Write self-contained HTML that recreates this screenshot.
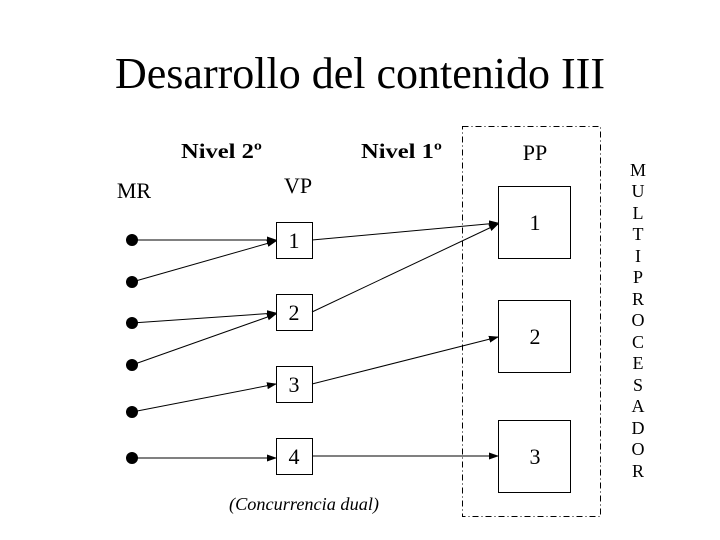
<!DOCTYPE html>
<html><head><style>body{margin:0;background:#fff}svg{display:block}text{font-family:"Liberation Serif",serif;fill:#000}</style></head><body>
<svg width="720" height="540" viewBox="0 0 720 540">
<defs><marker id="a" markerWidth="10" markerHeight="7" refX="9" refY="3.5" orient="auto" markerUnits="userSpaceOnUse"><path d="M0,0L10,3.5L0,7z" fill="#000"/></marker></defs>
<text x="360" y="88" font-size="44" text-anchor="middle" textLength="490" lengthAdjust="spacingAndGlyphs">Desarrollo del contenido III</text>
<text x="181" y="158" font-size="21" font-weight="bold" textLength="81" lengthAdjust="spacingAndGlyphs">Nivel 2º</text>
<text x="361" y="158" font-size="21" font-weight="bold" textLength="81" lengthAdjust="spacingAndGlyphs">Nivel 1º</text>
<text x="535" y="160" font-size="22" text-anchor="middle">PP</text>
<text x="134" y="198" font-size="22" text-anchor="middle">MR</text>
<text x="298" y="193" font-size="22" text-anchor="middle">VP</text>
<rect x="462.5" y="126.5" width="138" height="390" fill="none" stroke="#000" stroke-dasharray="6,3,1,3"/>
<g fill="#000"><circle cx="132" cy="240" r="6"/><circle cx="132" cy="282" r="6"/><circle cx="132" cy="323" r="6"/><circle cx="132" cy="365" r="6"/><circle cx="132" cy="412" r="6"/><circle cx="132" cy="458" r="6"/></g>
<g fill="none" stroke="#000"><rect x="276.5" y="222.5" width="36" height="36"/><rect x="276.5" y="294.5" width="36" height="36"/><rect x="276.5" y="366.5" width="36" height="36"/><rect x="276.5" y="438.5" width="36" height="36"/>
<rect x="498.5" y="186.5" width="72" height="72"/><rect x="498.5" y="300.5" width="72" height="72"/><rect x="498.5" y="420.5" width="72" height="72"/></g>
<g stroke="#000" stroke-width="1" marker-end="url(#a)">
<line x1="132" y1="240" x2="276" y2="240"/><line x1="132" y1="282" x2="276" y2="241"/>
<line x1="132" y1="323" x2="276" y2="313"/><line x1="132" y1="365" x2="276" y2="314"/>
<line x1="132" y1="412" x2="276" y2="384"/><line x1="132" y1="458" x2="276" y2="458"/>
<line x1="312" y1="240" x2="498" y2="223"/><line x1="312" y1="312" x2="498" y2="224"/>
<line x1="312" y1="384" x2="498" y2="337"/><line x1="312" y1="456" x2="498" y2="456"/></g>
<g font-size="22" text-anchor="middle"><text x="294" y="248">1</text><text x="294" y="320">2</text><text x="294" y="392">3</text><text x="294" y="464">4</text>
<text x="535" y="230">1</text><text x="535" y="344">2</text><text x="535" y="464">3</text></g>
<text x="229" y="510" font-size="18" font-style="italic" textLength="150" lengthAdjust="spacingAndGlyphs">(Concurrencia dual)</text>
<g font-size="18" text-anchor="middle">
<text x="638" y="176">M</text><text x="638" y="197">U</text><text x="638" y="219">L</text><text x="638" y="240">T</text><text x="638" y="262">I</text><text x="638" y="283">P</text><text x="638" y="305">R</text><text x="638" y="326">O</text><text x="638" y="348">C</text><text x="638" y="369">E</text><text x="638" y="391">S</text><text x="638" y="412">A</text><text x="638" y="434">D</text><text x="638" y="455">O</text><text x="638" y="477">R</text></g>
</svg></body></html>
